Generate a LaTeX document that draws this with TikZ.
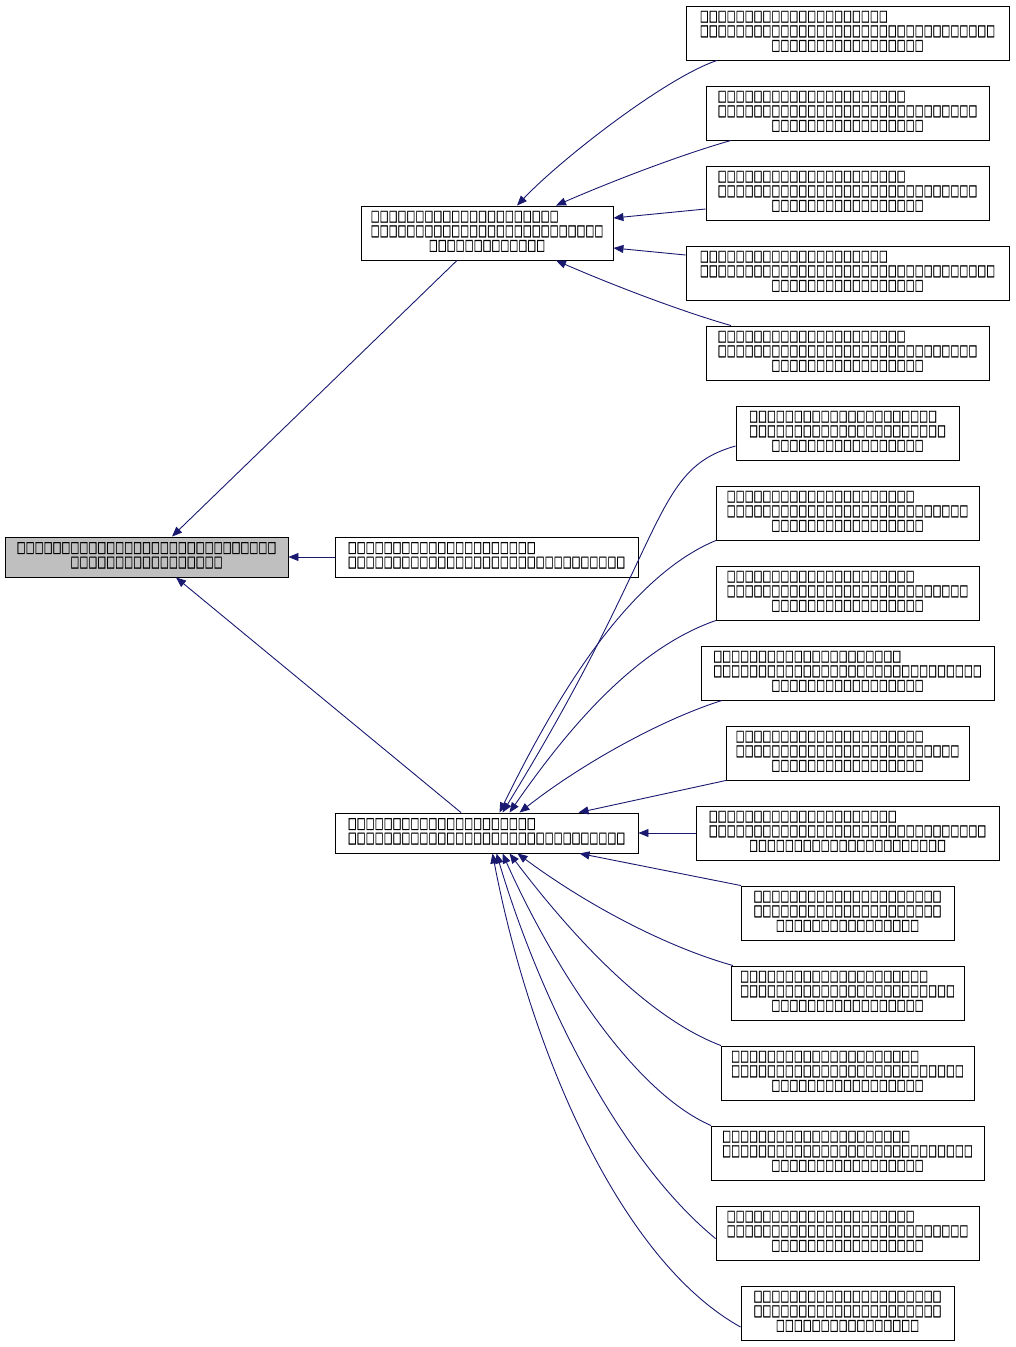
\documentclass[tikz,border=0pt]{standalone}
\usepackage{fontspec}
\usepackage{graphicx}
\newfontfamily\tofufont[FakeBold=1.2]{DejaVu Sans}
\usetikzlibrary{arrows.meta}
\definecolor{edgeblue}{HTML}{191970}
\definecolor{rootgray}{HTML}{BFBFBF}
\definecolor{tofugray}{HTML}{383838}
\newsavebox\tofubox
\sbox\tofubox{\raisebox{-1.2pt}[10pt][0pt]{\resizebox*{8.6pt}{11.8pt}{\tofufont □}}}
\ExplSyntaxOn
\cs_new:Npn \tofus #1 {\prg_replicate:nn {#1} {\makebox[8.95pt]{\usebox\tofubox}}}
\ExplSyntaxOff
\newcommand\upshift[1]{\raisebox{0pt}[\height][\dimexpr\depth+3.5pt\relax]{#1}}
\newcommand\threeL[3]{\upshift{\begin{tabular}{@{}l@{}}\tofus{#1}\\\tofus{#2}\\\multicolumn{1}{@{}c@{}}{\tofus{#3}}\end{tabular}}}
\newcommand\twoL[2]{\upshift{\begin{tabular}{@{}l@{}}\tofus{#1}\\\tofus{#2}\end{tabular}}}
\newcommand\twoC[2]{\upshift{\begin{tabular}{@{}c@{}}\tofus{#1}\\\tofus{#2}\end{tabular}}}
\tikzset{
  cls/.style={draw=black, line width=0.9pt, fill=white, inner sep=0pt,
    font=\fontsize{12}{14.6}\selectfont, text=tofugray},
  rootcls/.style={cls, fill=rootgray},
  edge/.style={draw=edgeblue, line width=0.9pt, -{Triangle[length=10pt,width=8pt]}},
}
\begin{document}
\begin{tikzpicture}[x=1pt,y=-1pt]
\useasboundingbox (0,0) rectangle (1015,1347);
\node[rootcls, minimum width=283pt, minimum height=40pt] (r) at (146.5,557) {\twoC{29}{17}};
\node[cls, minimum width=252pt, minimum height=54pt] (a) at (487,233) {\threeL{21}{26}{13}};
\node[cls, minimum width=303pt, minimum height=40pt] (b) at (486.5,557) {\twoL{21}{31}};
\node[cls, minimum width=303pt, minimum height=40pt] (c) at (486.5,833) {\twoL{21}{31}};
% children of a
\node[cls, minimum width=323pt, minimum height=54pt] (a1) at (847.5,33) {\threeL{21}{33}{17}};
\node[cls, minimum width=283pt, minimum height=54pt] (a2) at (847.5,113) {\threeL{21}{29}{17}};
\node[cls, minimum width=283pt, minimum height=54pt] (a3) at (847.5,193) {\threeL{21}{29}{17}};
\node[cls, minimum width=323pt, minimum height=54pt] (a4) at (847.5,273) {\threeL{21}{33}{17}};
\node[cls, minimum width=283pt, minimum height=54pt] (a5) at (847.5,353) {\threeL{21}{29}{17}};
% children of c
\node[cls, minimum width=223pt, minimum height=54pt] (c1) at (847.5,433) {\threeL{21}{22}{17}};
\node[cls, minimum width=263pt, minimum height=54pt] (c2) at (847.5,513) {\threeL{21}{27}{17}};
\node[cls, minimum width=263pt, minimum height=54pt] (c3) at (847.5,593) {\threeL{21}{27}{17}};
\node[cls, minimum width=293pt, minimum height=54pt] (c4) at (847.5,673) {\threeL{21}{30}{17}};
\node[cls, minimum width=243pt, minimum height=54pt] (c5) at (847.5,753) {\threeL{21}{25}{17}};
\node[cls, minimum width=303pt, minimum height=54pt] (c6) at (847.5,833) {\threeL{21}{31}{22}};
\node[cls, minimum width=213pt, minimum height=54pt] (c7) at (847.5,913) {\threeL{21}{21}{16}};
\node[cls, minimum width=233pt, minimum height=54pt] (c8) at (847.5,993) {\threeL{21}{24}{17}};
\node[cls, minimum width=253pt, minimum height=54pt] (c9) at (847.5,1073) {\threeL{21}{26}{17}};
\node[cls, minimum width=273pt, minimum height=54pt] (c10) at (847.5,1153) {\threeL{21}{28}{17}};
\node[cls, minimum width=263pt, minimum height=54pt] (c11) at (847.5,1233) {\threeL{21}{27}{17}};
\node[cls, minimum width=213pt, minimum height=54pt] (c12) at (847.5,1313) {\threeL{21}{21}{16}};
% edges to root
\draw[edge] ([xshift=-30pt]a.south) -- ([xshift=25.5pt]r.north);
\draw[edge] (b.west) -- (r.east);
\draw[edge] ([xshift=-25.5pt]c.north) -- ([xshift=29.5pt]r.south);
% edges to a
\draw[edge] ([xshift=-130.5pt]a1.south) .. controls (665,78) and (560,160) .. ([xshift=30pt]a.north);
\draw[edge] ([xshift=-116.5pt]a2.south) .. controls (680,155) and (610,182) .. ([xshift=69pt]a.north);
\draw[edge] ([yshift=-16pt]a3.west) -- ([yshift=15pt]a.east);
\draw[edge] ([yshift=18pt]a4.west) -- ([yshift=-15pt]a.east);
\draw[edge] ([xshift=-116.5pt]a5.north) .. controls (680,311) and (610,284) .. ([xshift=69pt]a.south);
% edges to c (top)
\draw[edge] ([yshift=-13pt]c1.west) .. controls (650,470) and (670,540) .. ([xshift=16pt]c.north);
\draw[edge] ([xshift=-131.5pt]c2.south) .. controls (620,580) and (545,720) .. ([xshift=13pt]c.north);
\draw[edge] ([xshift=-131.5pt]c3.south) .. controls (630,650) and (560,740) .. ([xshift=23pt]c.north);
\draw[edge] ([xshift=-125.5pt]c4.south) .. controls (660,720) and (580,765) .. ([xshift=33pt]c.north);
\draw[edge] ([xshift=-121.5pt]c5.south) -- ([xshift=92pt]c.north);
\draw[edge] (c6.west) -- (c.east);
% edges to c (bottom)
\draw[edge] ([xshift=-106.5pt]c7.north) -- ([xshift=93pt]c.south);
\draw[edge] ([xshift=-114.5pt]c8.north) .. controls (660,945) and (580,900) .. ([xshift=31pt]c.south);
\draw[edge] ([xshift=-126.5pt]c9.north) .. controls (640,1015) and (560,920) .. ([xshift=23pt]c.south);
\draw[edge] ([xshift=-136.5pt]c10.north) .. controls (630,1090) and (550,960) .. ([xshift=16pt]c.south);
\draw[edge] ([yshift=-33pt]c11.north west) .. controls (620,1160) and (540,1000) .. ([xshift=10pt]c.south);
\draw[edge] ([yshift=-14pt]c12.west) .. controls (620,1260) and (530,1050) .. ([xshift=6pt]c.south);
\end{tikzpicture}
\end{document}
